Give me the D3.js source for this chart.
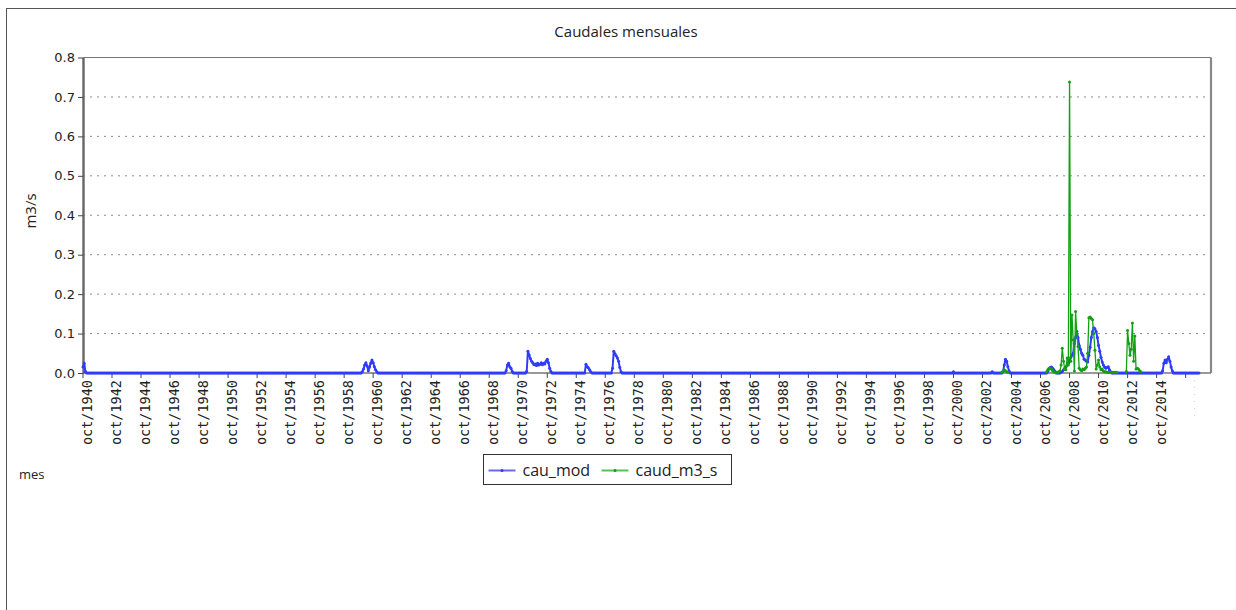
<!DOCTYPE html>
<html lang="es">
<head>
  <meta charset="UTF-8">
  <title>Caudales mensuales</title>
  <style>
    body { margin: 0; padding: 0; background: #ffffff; }
    svg { display: block; }
    .title, .legend-text, .lbl { font-family: 'Open Sans', sans-serif; fill: #222; }
    .ytick { font-family: 'DejaVu Sans', sans-serif; font-size: 13px; fill: #222; }
    .xtick { font-family: 'DejaVu Sans Mono', monospace; font-size: 13.5px; fill: #222; }
  </style>
</head>
<body>

<svg id="chart"></svg>

<script src="https://cdnjs.cloudflare.com/ajax/libs/d3/7.8.5/d3.min.js"></script>
<script>
  const width = 1236, height = 610;

  // monthly series, month 0 = oct/1940, last month = sep/2017
  const nMonths = 924;

  const xTickLabels = [
    "oct/1940", "oct/1942", "oct/1944", "oct/1946", "oct/1948", "oct/1950", "oct/1952", "oct/1954",
    "oct/1956", "oct/1958", "oct/1960", "oct/1962", "oct/1964", "oct/1966", "oct/1968", "oct/1970",
    "oct/1972", "oct/1974", "oct/1976", "oct/1978", "oct/1980", "oct/1982", "oct/1984", "oct/1986",
    "oct/1988", "oct/1990", "oct/1992", "oct/1994", "oct/1996", "oct/1998", "oct/2000", "oct/2002",
    "oct/2004", "oct/2006", "oct/2008", "oct/2010", "oct/2012", "oct/2014", ""
  ];
  const yTicks = [0.0, 0.1, 0.2, 0.3, 0.4, 0.5, 0.6, 0.7, 0.8];

  // cau_mod: zero except in these runs (start month, values)
  const cauModRuns = [
    { start: 0,   values: [0.015, 0.025, 0.004] },
    { start: 231, values: [0.003, 0.01, 0.02, 0.026, 0.018, 0.006, 0.015, 0.025, 0.033, 0.026, 0.016, 0.008, 0.003] },
    { start: 350, values: [0.006, 0.02, 0.025, 0.016, 0.012, 0.004] },
    { start: 367, values: [0.004, 0.055, 0.046, 0.037, 0.03, 0.026, 0.021, 0.023, 0.019, 0.025, 0.02, 0.022, 0.026, 0.021, 0.025, 0.023, 0.03, 0.035, 0.026, 0.012, 0.004] },
    { start: 416, values: [0.022, 0.016, 0.013, 0.008, 0.003] },
    { start: 438, values: [0.012, 0.055, 0.049, 0.044, 0.038, 0.03, 0.014, 0.003] },
    { start: 720, values: [0.003] },
    { start: 752, values: [0.003] },
    { start: 761, values: [0.004, 0.02, 0.035, 0.03, 0.016, 0.005] },
    { start: 798, values: [0.004, 0.01, 0.014, 0.015, 0.012, 0.008, 0.004] },
    { start: 809, values: [0.002, 0.004, 0.008, 0.012, 0.015, 0.02, 0.025, 0.03, 0.04, 0.045, 0.05, 0.075, 0.09, 0.105,
                           0.09, 0.07, 0.06, 0.05, 0.045, 0.035, 0.033, 0.03, 0.028, 0.045, 0.065, 0.09, 0.105, 0.115,
                           0.112, 0.105, 0.09, 0.07, 0.055, 0.04, 0.028, 0.02, 0.015, 0.012, 0.014, 0.016, 0.008, 0.003] },
    { start: 893, values: [0.006, 0.025, 0.033, 0.026, 0.035, 0.041, 0.03, 0.015, 0.005] }
  ];

  // caud_m3_s: observed only in these runs, missing elsewhere
  const caudRuns = [
    { start: 760, values: [0.002, 0.004, 0.008, 0.006, 0.003, 0.002] },
    { start: 797, values: [0.003, 0.008, 0.012, 0.012, 0.01, 0.006, 0.003, 0.002, 0.002, 0.002, 0.003, 0.005, 0.02,
                           0.063, 0.03, 0.01, 0.008, 0.038, 0.02, 0.738, 0.03, 0.147, 0.084, 0.005, 0.156, 0.1, 0.067,
                           0.012, 0.008, 0.006, 0.01, 0.008, 0.012, 0.015, 0.05, 0.14, 0.142, 0.138, 0.135, 0.1, 0.058,
                           0.01, 0.02, 0.033, 0.015, 0.008, 0.01, 0.005, 0.003, 0.003, 0.002, 0.002, 0.002, 0.002,
                           0.002, 0.002, 0.002, 0.002, 0.002] },
    { start: 863, values: [0.004, 0.108, 0.075, 0.045, 0.06, 0.127, 0.03, 0.094, 0.01, 0.012, 0.01, 0.006, 0.003] }
  ];

  const seriesNames = ["cau_mod", "caud_m3_s"];
  const seriesColors = ["#2f3cff", "#13a013"];
  const legendColors = ["#6a6ae6", "#55c455"];

  // build full monthly arrays
  const cauMod = d3.range(nMonths).map(() => 0);
  cauModRuns.forEach(r => r.values.forEach((v, k) => { cauMod[r.start + k] = v; }));
  const caud = d3.range(nMonths).map(() => null);
  caudRuns.forEach(r => r.values.forEach((v, k) => { caud[r.start + k] = v; }));

  const plot = { left: 83, right: 1211, top: 57.5, bottom: 373 };

  const x = d3.scaleLinear().domain([0, 933]).range([plot.left, plot.right]);
  const y = d3.scaleLinear().domain([0, 0.8]).range([plot.bottom, plot.top]);

  const svg = d3.select("#chart").attr("width", width).attr("height", height);

  // outer frame
  svg.append("rect")
    .attr("x", 6.5).attr("y", 8.5).attr("width", 1240).attr("height", 620)
    .attr("fill", "none").attr("stroke", "#555").attr("stroke-width", 1);

  svg.append("text").attr("class", "title")
    .attr("x", 626).attr("y", 37).attr("text-anchor", "middle")
    .style("font-size", "15px").text("Caudales mensuales");

  // grid
  svg.append("g").selectAll("line")
    .data(yTicks.filter(d => d > 0 && d < 0.8))
    .enter().append("line")
    .attr("x1", plot.left).attr("x2", plot.right)
    .attr("y1", d => y(d)).attr("y2", d => y(d))
    .attr("stroke", "#8a8a8a").attr("stroke-width", 1).attr("stroke-dasharray", "2,5");

  // frame lines of the plot
  svg.append("line").attr("x1", plot.left).attr("x2", plot.right).attr("y1", plot.top).attr("y2", plot.top)
    .attr("stroke", "#777").attr("stroke-width", 1.2);
  svg.append("line").attr("x1", plot.right).attr("x2", plot.right).attr("y1", plot.top).attr("y2", plot.bottom)
    .attr("stroke", "#888").attr("stroke-width", 2.2);
  svg.append("line").attr("x1", plot.left).attr("x2", plot.right).attr("y1", plot.bottom).attr("y2", plot.bottom)
    .attr("stroke", "#777").attr("stroke-width", 1.5);

  // y axis
  const yAxis = d3.axisLeft(y).tickValues(yTicks).tickFormat(d3.format(".1f")).tickSize(5).tickSizeOuter(0);
  const gy = svg.append("g").attr("transform", `translate(${plot.left},0)`).call(yAxis);
  gy.select(".domain").attr("stroke", "#666").attr("stroke-width", 2.4);
  gy.selectAll(".tick line").attr("stroke", "#444");
  gy.selectAll(".tick text").attr("class", "ytick").attr("fill", "#222").attr("font-family", null).attr("font-size", null);

  // x axis (tick every 24 months)
  const xTickVals = xTickLabels.map((d, i) => i * 24);
  const gx = svg.append("g").attr("transform", `translate(0,${plot.bottom})`);
  gx.selectAll("line")
    .data(xTickVals)
    .enter().append("line")
    .attr("x1", d => x(d)).attr("x2", d => x(d)).attr("y1", 0).attr("y2", 5)
    .attr("stroke", "#444");
  gx.selectAll("text")
    .data(xTickLabels)
    .enter().append("text")
    .attr("class", "xtick")
    .attr("text-anchor", "end")
    .attr("transform", (d, i) => `translate(${x(xTickVals[i]) + 9},7) rotate(-90)`)
    .text(d => d);
  // faint placeholder of the last (empty) label
  gx.append("line")
    .attr("x1", x(xTickVals[xTickVals.length - 1]) + 9).attr("x2", x(xTickVals[xTickVals.length - 1]) + 9)
    .attr("y1", 7).attr("y2", 45)
    .attr("stroke", "#ccc").attr("stroke-dasharray", "1,6");

  svg.append("text").attr("class", "lbl")
    .attr("transform", "translate(36,211) rotate(-90)").attr("text-anchor", "middle")
    .style("font-size", "15px").text("m3/s");
  svg.append("text").attr("class", "lbl")
    .attr("x", 19).attr("y", 479).style("font-size", "13px").text("mes");

  // series
  const line = d3.line()
    .defined(d => d !== null)
    .x((d, i) => x(i))
    .y(d => y(d));

  const allSeries = [cauMod, caud];
  allSeries.forEach((data, s) => {
    svg.append("path")
      .datum(data)
      .attr("fill", "none")
      .attr("stroke", seriesColors[s])
      .attr("stroke-width", s === 0 ? 2 : 1.3)
      .attr("stroke-linejoin", "round")
      .attr("d", line);
    svg.append("g").selectAll("circle")
      .data(data.map((v, i) => ({ i, v })).filter(d => d.v !== null))
      .enter().append("circle")
      .attr("cx", d => x(d.i))
      .attr("cy", d => y(d.v))
      .attr("r", 1.5)
      .attr("fill", seriesColors[s]);
  });

  // legend
  const legend = svg.append("g").attr("transform", "translate(483.5,454.5)");
  legend.append("rect").attr("width", 248).attr("height", 30)
    .attr("fill", "#fff").attr("stroke", "#333").attr("stroke-width", 1);
  const legendX = [5, 118];
  seriesNames.forEach((name, s) => {
    const lx = legendX[s];
    legend.append("line").attr("x1", lx).attr("x2", lx + 27).attr("y1", 16).attr("y2", 16)
      .attr("stroke", legendColors[s]).attr("stroke-width", 2);
    legend.append("circle").attr("cx", lx + 13.5).attr("cy", 16).attr("r", 1.5).attr("fill", seriesColors[s]);
    legend.append("text").attr("class", "legend-text")
      .attr("x", lx + 34).attr("y", 21).style("font-size", "16px").text(name);
  });
</script>

</body>
</html>
